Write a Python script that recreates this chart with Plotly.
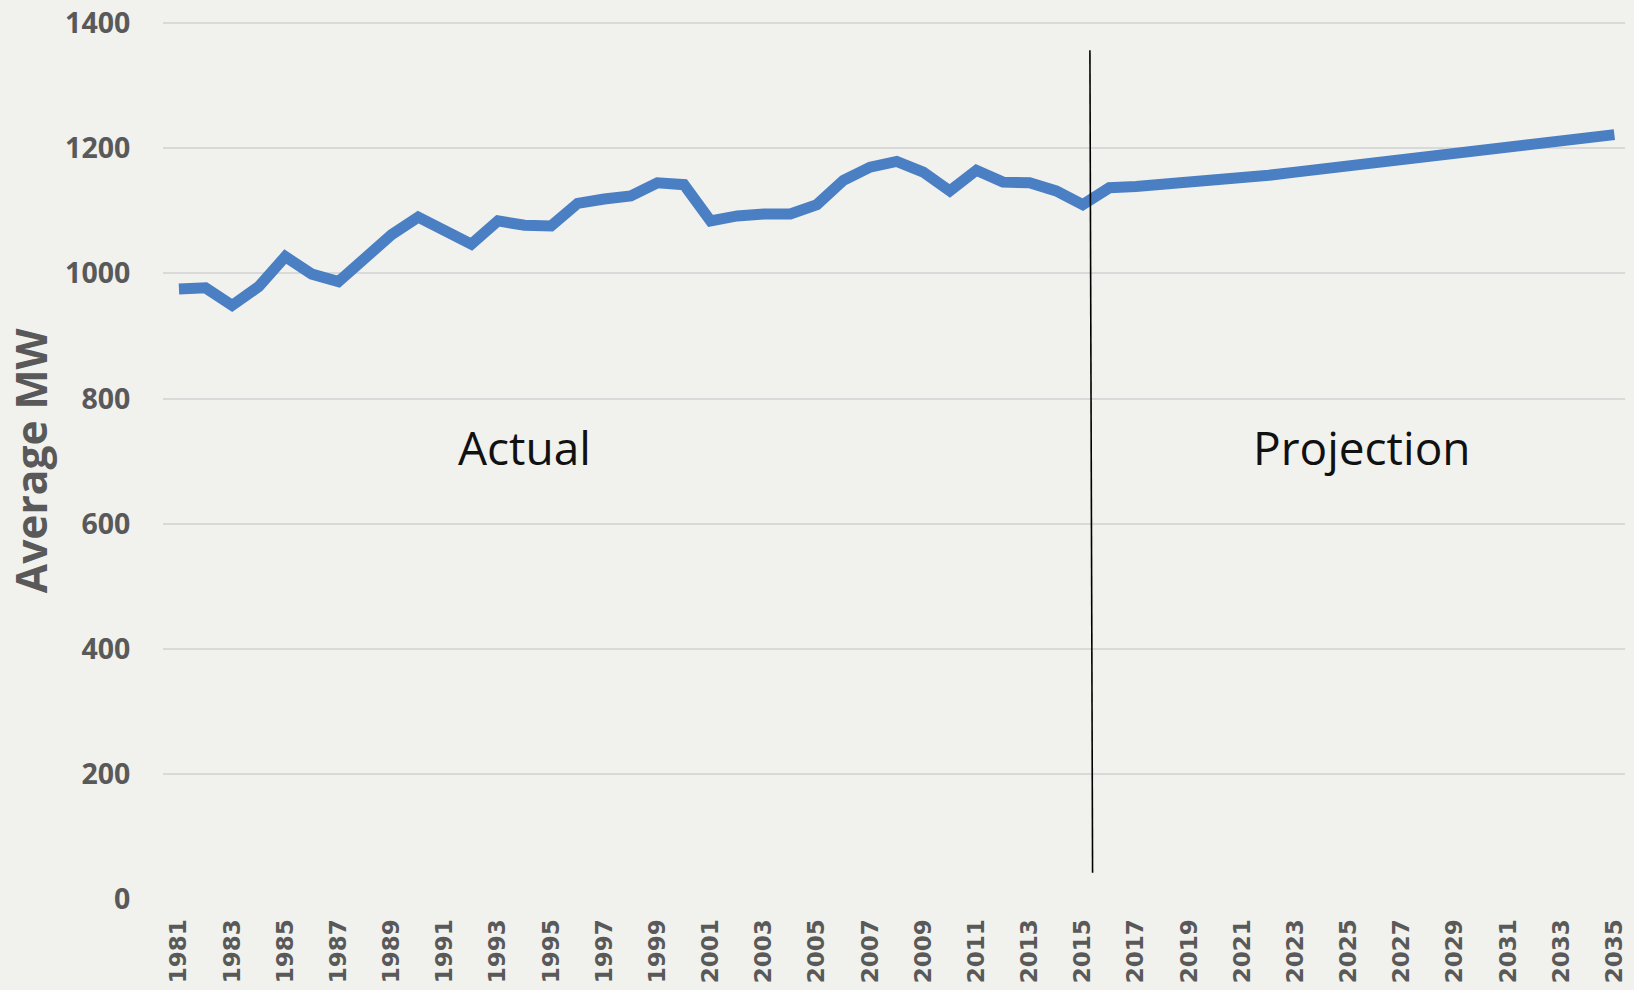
import plotly.graph_objects as go

years = list(range(1981, 2036))
average_mw = [
    975, 977, 949, 979, 1027, 999, 987, 1024, 1062, 1090,
    1070, 1047, 1084, 1077, 1076, 1112, 1119, 1124, 1145, 1142,
    1084, 1092, 1095, 1095, 1110, 1149, 1170, 1179, 1162, 1132,
    1165, 1146, 1145, 1132, 1110, 1137, 1139, 1142, 1146, 1151,
    1153, 1157, 1162, 1167, 1172, 1175, 1180, 1185, 1190, 1195,
    1200, 1205, 1210, 1216, 1222,
]
x_tick_vals = list(range(1981, 2036, 2))
x_tick_text = [str(y) for y in x_tick_vals]
y_tick_vals = [0, 200, 400, 600, 800, 1000, 1200, 1400]
divider_year = (2015.27, 2015.37)
divider_span = (1357, 42)
region_labels = ["Actual", "Projection"]
region_label_x = [1994.0, 2025.5]
region_label_y = 722

bg = "#f1f1ed"
grey = "#595959"

fig = go.Figure()
fig.add_trace(go.Scatter(
    x=years, y=average_mw, mode="lines",
    line=dict(color="#4a7fc3", width=11),
    hoverinfo="x+y", showlegend=False,
))

fig.add_shape(type="line", xref="x", yref="y",
              x0=divider_year[0], y0=divider_span[0],
              x1=divider_year[1], y1=divider_span[1],
              line=dict(color="black", width=1.6))

for txt, xv in zip(region_labels, region_label_x):
    fig.add_annotation(x=xv, y=region_label_y, xref="x", yref="y",
                       text=txt, showarrow=False,
                       font=dict(family="Open Sans", size=46, color="#111111"),
                       xanchor="center", yanchor="middle")

fig.add_annotation(x=-0.0905, y=0.5, xref="paper", yref="paper",
                   text="<b>Average MW</b>", showarrow=False, textangle=-90,
                   font=dict(family="Open Sans", size=42.5, color=grey),
                   xanchor="center", yanchor="middle")

fig.update_layout(
    width=1634, height=990,
    margin=dict(l=163, r=9, t=22, b=91, autoexpand=False),
    paper_bgcolor=bg, plot_bgcolor=bg,
    xaxis=dict(
        range=[1980.4, 2035.4], automargin=False,
        tickmode="array", tickvals=x_tick_vals, ticktext=x_tick_text,
        tickangle=-90, showgrid=False, zeroline=False, showline=False,
        ticks="outside", ticklen=10, tickcolor="rgba(0,0,0,0)",
        tickfont=dict(family="DejaVu Sans", size=23, color=grey, weight="bold"),
    ),
    yaxis=dict(
        range=[0, 1402], automargin=False,
        tickmode="array", tickvals=y_tick_vals,
        showgrid=True, gridcolor="#d9d9d9", gridwidth=2,
        zeroline=False, showline=False,
        ticks="outside", ticklen=26, tickcolor="rgba(0,0,0,0)",
        tickfont=dict(family="Open Sans", size=28.5, color=grey, weight="bold"),
    ),
)

fig.write_html(
    "out.html",
    config={"displayModeBar": False},
    post_script="document.body.style.margin='0';document.body.style.background='%s';" % bg,
)
